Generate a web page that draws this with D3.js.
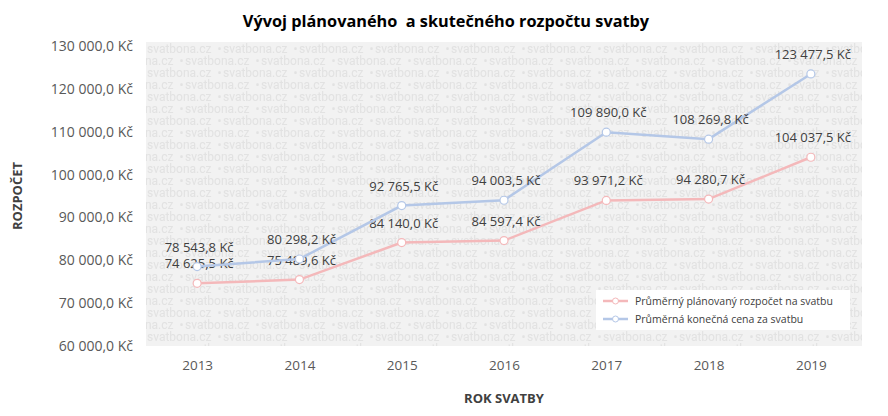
<!DOCTYPE html>
<html><head><meta charset="utf-8">
<script src="https://cdn.jsdelivr.net/npm/d3@7"></script>
<style>body{margin:0;background:#fff;}svg{display:block;font-family:"Open Sans",sans-serif;}</style>
</head><body>
<svg id="c" width="888" height="416"></svg>
<script>
const years = ["2013","2014","2015","2016","2017","2018","2019"];
const planned = [74625.5, 75489.6, 84140.0, 84597.4, 93971.2, 94280.7, 104037.5];
const actual = [78543.8, 80298.2, 92765.5, 94003.5, 109890.0, 108269.8, 123477.5];
const yTicks = [60000,70000,80000,90000,100000,110000,120000,130000];
const seriesNames = ["Průměrný plánovaný rozpočet na svatbu","Průměrná konečná cena za svatbu"];
const colors = ["#f4b8ba","#b4c7e7"];

const svg = d3.select("#c");
const L=146, R=862, T=46, B=346;
const x = d3.scalePoint().domain(years).range([L,R]).padding(0.5);
const y = d3.scaleLinear().domain([60000,130000]).range([B,T]);
const fmt = v => { const p = d3.format(",.1f")(v).split("."); return p[0].replace(/,/g," ")+","+p[1]+" Kč"; };

// background with watermark
const defs = svg.append("defs");
const pat = defs.append("pattern").attr("id","wm").attr("patternUnits","userSpaceOnUse")
  .attr("width",76).attr("height",24).attr("x",L+1).attr("y",T-3);
pat.append("rect").attr("width",76).attr("height",24).attr("fill","#f2f2f2");
[[0,10],[-38,22],[38,22]].forEach(([px,py])=>{
  pat.append("text").attr("x",px).attr("y",py).attr("font-size",12).attr("font-family","Roboto, sans-serif")
    .attr("fill","#e2e2e2").attr("xml:space","preserve").text("svatbona.cz  •  ");
});
svg.append("rect").attr("x",L).attr("y",T-4).attr("width",R-L).attr("height",B-T+4).attr("fill","url(#wm)");

// title
svg.append("text").attr("x",446).attr("y",27).attr("text-anchor","middle").attr("font-size",16.3)
  .attr("font-weight","bold").attr("fill","#000").attr("xml:space","preserve").text("Vývoj plánovaného  a skutečného rozpočtu svatby");

// y axis
const ya = svg.append("g").attr("transform",`translate(${L},0)`).call(d3.axisLeft(y).tickValues(yTicks).tickSize(0).tickPadding(13).tickFormat(fmt));
ya.select(".domain").remove();
ya.selectAll("text").attr("font-size",14).attr("fill","#595959").attr("font-family","Open Sans, sans-serif");

// x axis
const xa = svg.append("g").attr("transform",`translate(0,${B})`).call(d3.axisBottom(x).tickSize(0).tickPadding(14));
xa.select(".domain").remove();
xa.selectAll("text").attr("font-size",13.5).attr("fill","#595959").attr("font-family","Open Sans, sans-serif");

// axis titles
svg.append("text").attr("transform","translate(22,196) rotate(-90)").attr("text-anchor","middle")
  .attr("font-size",13).attr("font-weight","bold").attr("fill","#404040").text("ROZPOČET");
svg.append("text").attr("x",504).attr("y",403).attr("text-anchor","middle")
  .attr("font-size",13).attr("font-weight","bold").attr("fill","#404040").text("ROK SVATBY");

// lines
const line = d3.line().x((d,i)=>x(years[i])).y(d=>y(d));
[planned, actual].forEach((s,k)=>{
  svg.append("path").attr("d",line(s)).attr("fill","none").attr("stroke",colors[k]).attr("stroke-width",2.5);
  svg.selectAll(null).data(s).enter().append("circle")
    .attr("cx",(d,i)=>x(years[i])).attr("cy",d=>y(d)).attr("r",4)
    .attr("fill","#fff").attr("stroke",colors[k]).attr("stroke-width",1.2);
  svg.selectAll(null).data(s).enter().append("text")
    .attr("x",(d,i)=>x(years[i])+2).attr("y",d=>y(d)-15).attr("text-anchor","middle")
    .attr("font-size",13).attr("fill","#404040").text(d=>fmt(d));
});

// legend
const lg = svg.append("g").attr("transform","translate(596,290)");
lg.append("rect").attr("width",254).attr("height",40).attr("fill","#fff");
seriesNames.forEach((n,k)=>{
  const yy = 11 + k*18;
  lg.append("line").attr("x1",7).attr("x2",32).attr("y1",yy).attr("y2",yy).attr("stroke",colors[k]).attr("stroke-width",2.5);
  lg.append("circle").attr("cx",19.5).attr("cy",yy).attr("r",3).attr("fill","#fff").attr("stroke",colors[k]).attr("stroke-width",1);
  lg.append("text").attr("x",39).attr("y",yy+4).attr("font-size",10.5).attr("fill","#404040").text(n);
});
</script>
</body></html>
